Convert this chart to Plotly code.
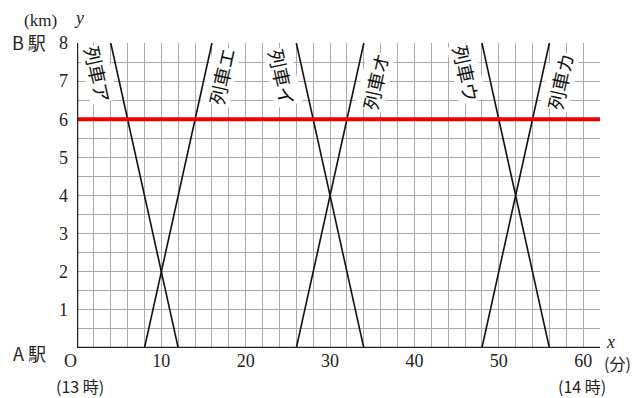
import plotly.graph_objects as go

# Data
train_names = ["列車ア", "列車イ", "列車ウ", "列車エ", "列車オ", "列車カ"]
start_x = [4, 26, 48, 8, 26, 48]      # minute at start
end_x = [12, 34, 56, 16, 34, 56]      # minute at end
start_y = [8, 8, 8, 0, 0, 0]          # km at start
end_y = [0, 0, 0, 8, 8, 8]            # km at end
label_x = [2.5, 24.4, 46.2, 17.1, 35.3, 57.2]
label_y = [7.2, 7.1, 7.2, 7.12, 7.0, 7.0]
red_y = 6
x_ticks = list(range(0, 63, 2))
x_ticktext = [str(v) if v % 10 == 0 and v > 0 else "" for v in x_ticks]
y_ticks = [i * 0.5 for i in range(17)]
y_ticktext = [str(int(v)) if v == int(v) and v > 0 else "" for v in y_ticks]

serif = "Liberation Serif, DejaVu Serif, serif"
jp = "Noto Sans CJK JP"

fig = go.Figure()
for i in range(len(train_names)):
    fig.add_trace(go.Scatter(x=[start_x[i], end_x[i]], y=[start_y[i], end_y[i]],
                             mode="lines", line=dict(color="#111", width=1.6),
                             hoverinfo="skip", showlegend=False))
fig.add_trace(go.Scatter(x=[0, 62], y=[red_y, red_y], mode="lines",
                         line=dict(color="#ee0000", width=4), showlegend=False,
                         hoverinfo="skip"))

for i, name in enumerate(train_names):
    ang = 77.5 if start_y[i] > end_y[i] else -77.5
    fig.add_annotation(x=label_x[i], y=label_y[i], text=name, showarrow=False,
                       textangle=ang, font=dict(family=jp, size=19, color="#111"),
                       bgcolor="white", borderpad=0)

def pix(text, x, y, size=17, family=serif, italic=False, xanchor="center"):
    fig.add_annotation(xref="paper", yref="paper",
                       x=(x - 77) / (600 - 77), y=(348 - y) / (348 - 43),
                       text=("<i>%s</i>" % text) if italic else text,
                       showarrow=False, xanchor=xanchor, yanchor="middle",
                       font=dict(family=family, size=size, color="#222"))

pix("B 駅", 29, 42, size=18, family=jp)
pix("A 駅", 29, 353, size=18, family=jp)
pix("(km)", 40, 20, size=17)
pix("y", 79, 18, size=18, italic=True)
pix("O", 70, 361, size=18)
pix("(13 時)", 80, 386, size=16, family=jp)
pix("(14 時)", 582, 386, size=16, family=jp)
pix("(分)", 617, 363, size=16, family=jp)
pix("x", 610, 342, size=18, italic=True)

fig.update_layout(
    width=633, height=398,
    margin=dict(l=77, r=33, t=43, b=50),
    paper_bgcolor="white", plot_bgcolor="white",
    xaxis=dict(range=[0, 62], tickmode="array", tickvals=x_ticks, ticktext=x_ticktext,
               showgrid=True, gridcolor="#aaaaaa", gridwidth=1, zeroline=False,
               showline=False, ticks="", tickfont=dict(family=serif, size=18, color="#222")),
    yaxis=dict(range=[0, 8], tickmode="array", tickvals=y_ticks, ticktext=y_ticktext,
               showgrid=True, gridcolor="#aaaaaa", gridwidth=1, zeroline=False,
               showline=False, ticks="", ticklabelstandoff=8,
               tickfont=dict(family=serif, size=18, color="#222")),
)
fig.add_shape(type="line", xref="x", yref="y", x0=0, x1=62, y0=0, y1=0,
              line=dict(color="#222", width=2.5))
fig.add_shape(type="line", xref="x", yref="y", x0=0, x1=0, y0=0, y1=8,
              line=dict(color="#222", width=2.5))

fig.write_html("out.html", config={"displayModeBar": False},
               post_script="document.body.style.margin='0';document.body.style.overflow='hidden';")
